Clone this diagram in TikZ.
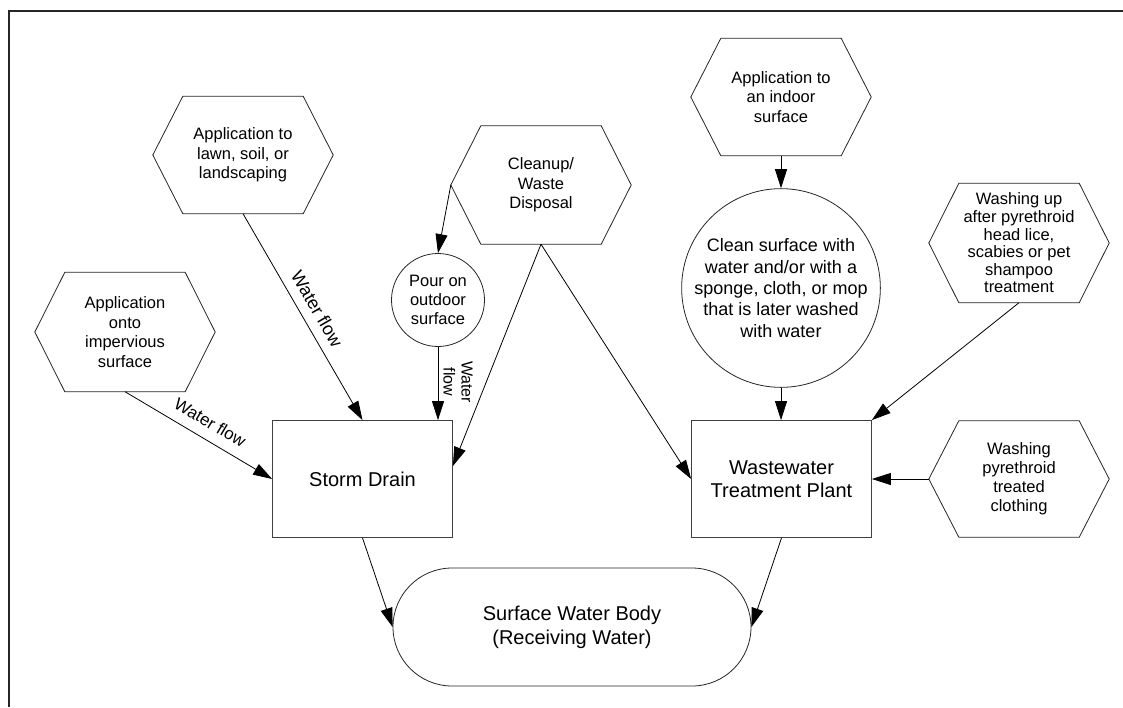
\documentclass[tikz,border=0pt]{standalone}
\usepackage{fontspec}
\setmainfont{Liberation Sans}
\usetikzlibrary{arrows.meta,shapes.misc,calc}

\tikzset{
  hexa/.style={minimum width=180pt, minimum height=118pt, inner sep=0pt, align=center,
    font=\fontsize{16.5}{19.5}\selectfont},
  hexline/.style={draw=black!85, line width=0.8pt},
  boxnode/.style={draw=black!75, line width=0.8pt, minimum width=180pt, minimum height=117pt,
    inner sep=0pt, align=center, font=\fontsize{20}{23.5}\selectfont},
  circnode/.style={circle, draw=black!85, line width=0.8pt, inner sep=0pt, align=center},
  flow/.style={-{Triangle[length=19pt,width=12pt]}, line width=0.8pt, black},
  lbl/.style={sloped, above, align=center},
}

\newcommand\hexnode[4]{%
  \node[hexa,#3] (#1) at (#2) {#4};
  \draw[hexline] (#1.west) -- ([xshift=30pt]#1.north west) -- ([xshift=-30pt]#1.north east)
    -- (#1.east) -- ([xshift=-30pt]#1.south east) -- ([xshift=30pt]#1.south west) -- cycle;
}

\begin{document}
\begin{tikzpicture}[x=1pt,y=-1pt]
\useasboundingbox (0,0) rectangle (1123,707);
\fill[white] (0,0) rectangle (1123,707);

% frame
\draw[line width=1.5pt, black!85] (1123,11) -- (9,11) -- (9,707);

% hexagons
\hexnode{imperv}{125,332}{minimum height=119pt}{Application\\onto\\impervious\\surface}
\hexnode{lawn}{243,155}{minimum height=117pt}{Application to\\lawn, soil, or\\landscaping}
\hexnode{cleanup}{541,185}{}{Cleanup/\\Waste\\Disposal}
\hexnode{indoor}{781,97}{minimum height=117pt}{Application to\\an indoor\\surface}
\hexnode{washup}{1019,243}{minimum height=119pt, font=\fontsize{16.5}{17.6}\selectfont}{Washing up\\after pyrethroid\\head lice,\\scabies or pet\\shampoo\\treatment}
\hexnode{washcloth}{1019,479}{minimum height=116pt, font=\fontsize{16.5}{19}\selectfont}{Washing\\pyrethroid\\treated\\clothing}

% circles
\node[circnode, minimum size=93pt, font=\fontsize{16.5}{19}\selectfont] (pour) at (438,300) {Pour on\\outdoor\\surface};
\node[circnode, minimum size=180pt, font=\fontsize{18}{21.3}\selectfont] (clean) at (781,288)
  {Clean surface with\\water and/or with a\\sponge, cloth, or mop\\that is later washed\\with water};

% boxes
\node[boxnode] (storm) at (362.5,479) {Storm Drain};
\node[boxnode] (wwtp) at (781.5,479) {Wastewater\\Treatment Plant};

% receiving water
\node[rounded rectangle, draw=black!85, line width=0.8pt, minimum width=358pt, minimum height=118pt,
  inner sep=0pt, align=center, font=\fontsize{20}{24}\selectfont] (water) at (572,627)
  {Surface Water Body\\(Receiving Water)};

% connectors
\draw[flow] (imperv.south) -- (storm.west)
  node[lbl, pos=0.52, inner sep=10.5pt, font=\fontsize{17}{19}\selectfont] {Water flow};
\draw[flow] (lawn.south) -- (storm.north)
  node[lbl, pos=0.5, inner sep=9.5pt, font=\fontsize{18}{20}\selectfont] {Water flow};
\draw[flow] (cleanup.west) -- (pour.north);
\draw[flow] (pour.south) -- (pour.south |- storm.north)
  node[lbl, pos=0.48, inner sep=5pt, font=\fontsize{16}{18}\selectfont] {Water\\flow};
\draw[flow] (cleanup.south) -- ([yshift=13pt]storm.east);
\draw[flow] (cleanup.south) -- (wwtp.west);
\draw[flow] (indoor.south) -- (clean.north);
\draw[flow] (clean.south) -- (clean.south |- wwtp.north);
\draw[flow] (washup.south) -- (wwtp.north east);
\draw[flow] (washcloth.west) -- (wwtp.east);
\draw[flow] (storm.south) -- (water.west);
\draw[flow] (wwtp.south) -- (water.east);
\end{tikzpicture}
\end{document}
